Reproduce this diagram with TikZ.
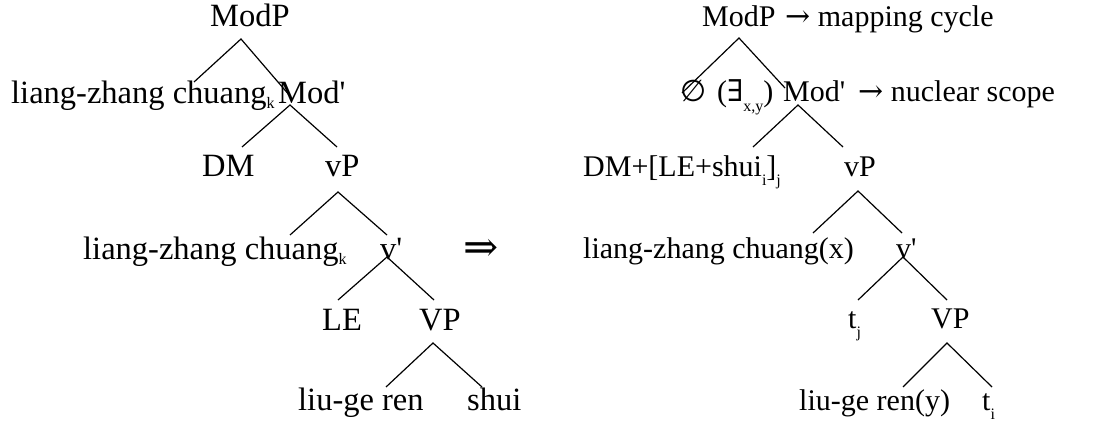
\documentclass[tikz,border=0pt]{standalone}
\usepackage{fontspec}
\setmainfont{Liberation Serif}
\newfontfamily\symf{DejaVu Serif}
\newfontfamily\symsans{DejaVu Sans}
\newcommand{\lsub}[1]{\raisebox{-0.17em}{\fontsize{16}{16}\selectfont #1}}
\newcommand{\dsub}[1]{\raisebox{-0.32em}{\fontsize{16}{16}\selectfont #1}}
\newcommand{\prm}{\textquotesingle}
\tikzset{lbl/.style={font=\fontsize{32.5}{38}\selectfont, inner sep=0pt, anchor=base west},
  rlbl/.style={lbl, font=\fontsize{30}{36}\selectfont},
  br/.style={line width=1.2pt}}

\begin{document}
\begin{tikzpicture}[x=1pt,y=-1pt]
            \useasboundingbox (0,0) rectangle (1102,425);
            % left tree
            \node[lbl] (lmodp) at (210,27) {ModP};
            \node[lbl] (lspec) at (11,103) {liang-zhang chuang\lsub{k}};
            \node[lbl] (lmodbar) at (278,103) {Mod\prm};
            \node[lbl] (ldm) at (202,176) {DM};
            \node[lbl] (lvp) at (325,176) {vP};
            \node[lbl] (lsubj) at (83,259) {liang-zhang chuang\lsub{k}};
            \node[lbl] (lvbar) at (380,259) {v\prm};
            \node[lbl] (lle) at (322,330) {LE};
            \node[lbl] (lVP) at (419,330) {VP};
            \node[lbl] (lobj) at (298,410) {liu-ge ren};
            \node[lbl] (lshui) at (467,410) {shui};
            \coordinate (lmodp-t) at (241,39); \coordinate (lmodp-l) at (194,82); \coordinate (lmodp-r) at (290,96);
            \coordinate (lmodbar-t) at (290,105); \coordinate (lmodbar-l) at (242,147); \coordinate (lmodbar-r) at (337,147);
            \coordinate (lvp-t) at (338,192); \coordinate (lvp-l) at (290,235); \coordinate (lvp-r) at (387,235);
            \coordinate (lvbar-t) at (387,257); \coordinate (lvbar-l) at (338,300); \coordinate (lvbar-r) at (434,300);
            \coordinate (lVP-t) at (433,343); \coordinate (lVP-l) at (386,387); \coordinate (lVP-r) at (482,387);
            \draw[br] (lmodp-l)--(lmodp-t)--(lmodp-r);
            \draw[br] (lmodbar-l)--(lmodbar-t)--(lmodbar-r);
            \draw[br] (lvp-l)--(lvp-t)--(lvp-r);
            \draw[br] (lvbar-l)--(lvbar-t)--(lvbar-r);
            \draw[br] (lVP-l)--(lVP-t)--(lVP-r);
            % derivation arrow
            \node[lbl,anchor=center,font=\fontsize{42}{42}\selectfont] (deriv) at (481,250) {\symf ⇒};
            % right tree
            \node[rlbl] (rmodp) at (702,27) {ModP};
            \node[rlbl] (rcycle) at (785,27) {{\symf →} mapping cycle};
            \node[rlbl] (rspec) at (680,102) {{\symsans ∅}};
            \node[rlbl] (rexist) at (717,102) {({\symf ∃}\dsub{x,y})};
            \node[rlbl] (rmodbar) at (783,102) {Mod\prm};
            \node[rlbl] (rscope) at (858,102) {{\symf →} nuclear scope};
            \node[rlbl] (rdm) at (583,176) {DM+[LE+shui\dsub{i}]\dsub{j}};
            \node[rlbl] (rvp) at (844,176) {vP};
            \node[rlbl] (rsubj) at (583,258) {liang-zhang chuang(x)};
            \node[rlbl] (rvbar) at (896,258) {v\prm};
            \node[rlbl] (rtj) at (848,328) {t\dsub{j}};
            \node[rlbl] (rVP) at (931,328) {VP};
            \node[rlbl] (robj) at (799,410) {liu-ge ren(y)};
            \node[rlbl] (rti) at (982,410) {t\dsub{i}};
            \coordinate (rmodp-t) at (739,38); \coordinate (rmodp-l) at (682,93); \coordinate (rmodp-r) at (785,88);
            \coordinate (rmodbar-t) at (798,105); \coordinate (rmodbar-l) at (753,147); \coordinate (rmodbar-r) at (843,147);
            \coordinate (rvp-t) at (858,191); \coordinate (rvp-l) at (813,233); \coordinate (rvp-r) at (902,233);
            \coordinate (rvbar-t) at (903,257); \coordinate (rvbar-l) at (858,300); \coordinate (rvbar-r) at (947,300);
            \coordinate (rVP-t) at (947,343); \coordinate (rVP-l) at (903,387); \coordinate (rVP-r) at (992,387);
            \draw[br] (rmodp-l)--(rmodp-t)--(rmodp-r);
            \draw[br] (rmodbar-l)--(rmodbar-t)--(rmodbar-r);
            \draw[br] (rvp-l)--(rvp-t)--(rvp-r);
            \draw[br] (rvbar-l)--(rvbar-t)--(rvbar-r);
            \draw[br] (rVP-l)--(rVP-t)--(rVP-r);
        \end{tikzpicture}
\end{document}
